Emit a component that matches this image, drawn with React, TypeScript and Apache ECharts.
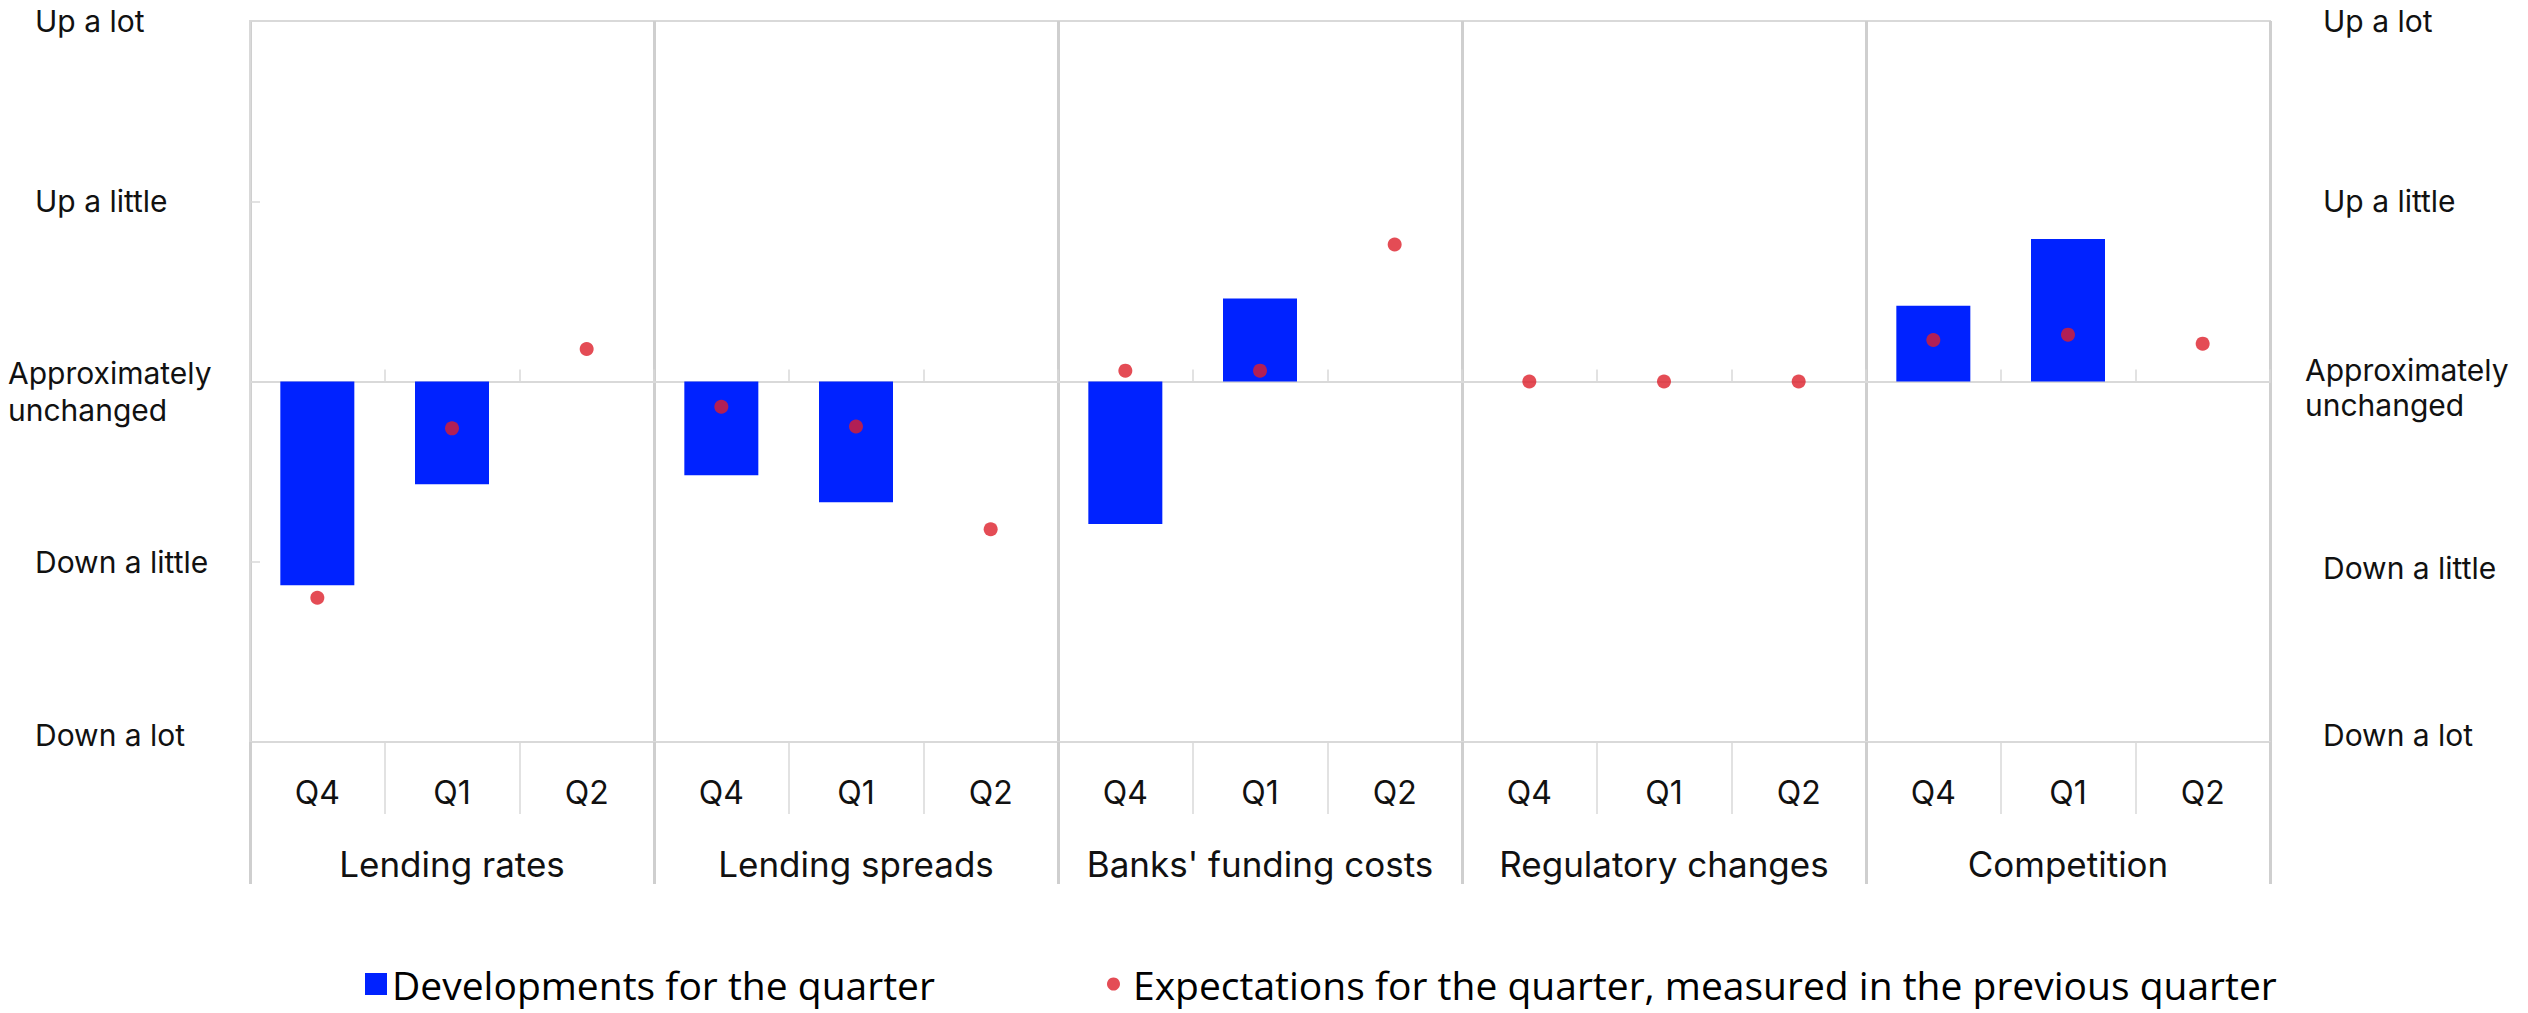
import React, { useEffect, useRef } from 'react';
import * as echarts from 'echarts';

const groups = ['Lending rates', 'Lending spreads', "Banks' funding costs", 'Regulatory changes', 'Competition'];
const quarters = ['Q4', 'Q1', 'Q2'];
const developments: (number | null)[] = [-1.13, -0.57, null, -0.52, -0.67, null, -0.79, 0.46, null, 0, 0, null, 0.42, 0.79, null];
const expectations: number[] = [-1.2, -0.26, 0.18, -0.14, -0.25, -0.82, 0.06, 0.06, 0.76, 0, 0, 0, 0.23, 0.26, 0.21];
const yTickValues = [-2, -1, 0, 1, 2];
const yTickLabels = ['Down a lot', 'Down a little', 'Approximately\nunchanged', 'Up a little', 'Up a lot'];
const seriesNames = ['Developments for the quarter', 'Expectations for the quarter, measured in the previous quarter'];

const FONT = 'Inter';
const LEGEND_FONT = 'Open Sans';
const TEXT = '#111111';
const LIGHT = '#D9D9D9';
const SEP = '#CFCFCF';

export default function App() {
  const ref = useRef<HTMLDivElement>(null);

  useEffect(() => {
    if (!ref.current) return;
    const chart = echarts.init(ref.current, undefined, { renderer: 'svg' });

    const cats = groups.flatMap((g) => quarters.map((q) => g + '|' + q));
    const gridRect = { left: 250, right: 258, top: 21, bottom: 271 };

    const yFormatter = (v: number) => {
      const i = yTickValues.indexOf(v);
      if (i < 0) return '';
      const lab = yTickLabels[i];
      if (lab.indexOf('\n') >= 0) {
        const [a, b] = lab.split('\n');
        return '{a|' + a + '}\n{b|' + b + '}';
      }
      if (v === -2) return '{d|' + lab + '}';
      if (v === -1) return '{m|' + lab + '}';
      return '{p|' + lab + '}';
    };
    const baseText = { fontFamily: FONT, fontSize: 30, color: TEXT };

    const option: any = {
      animation: false,
      backgroundColor: '#ffffff',
      grid: [
        { ...gridRect, show: true, borderColor: LIGHT, borderWidth: 2, backgroundColor: 'transparent' },
        { ...gridRect },
        { ...gridRect },
      ],
      xAxis: [
        {
          gridIndex: 0,
          type: 'category',
          data: cats,
          position: 'bottom',
          axisLine: { show: true, onZero: false, lineStyle: { color: LIGHT, width: 2 } },
          axisTick: { show: true, interval: 0, length: 72, lineStyle: { color: LIGHT, width: 1.5 } },
          axisLabel: {
            interval: 0,
            margin: 34,
            fontFamily: FONT,
            fontSize: 32,
            color: TEXT,
            formatter: (v: string) => v.split('|')[1],
          },
          splitLine: { show: false },
        },
        {
          gridIndex: 1,
          type: 'category',
          data: groups,
          position: 'bottom',
          axisLine: { show: false, onZero: false },
          axisTick: { show: true, interval: 0, length: 142, lineStyle: { color: SEP, width: 3 } },
          axisLabel: { interval: 0, margin: 104, fontFamily: FONT, fontSize: 35, color: TEXT },
          splitLine: { show: true, interval: 0, lineStyle: { color: SEP, width: 3 } },
        },
        {
          gridIndex: 2,
          type: 'category',
          data: cats,
          position: 'bottom',
          axisLine: { show: true, onZero: true, lineStyle: { color: LIGHT, width: 2 } },
          axisTick: { show: true, inside: true, interval: 0, length: 12, lineStyle: { color: LIGHT, width: 1.5 } },
          axisLabel: { show: false },
          splitLine: { show: false },
        },
      ],
      yAxis: [
        {
          gridIndex: 0,
          type: 'value',
          min: -2,
          max: 2,
          interval: 1,
          position: 'left',
          axisLine: { show: true, lineStyle: { color: LIGHT, width: 2 } },
          axisTick: { show: true, inside: true, length: 10, lineStyle: { color: LIGHT, width: 1.5 } },
          splitLine: { show: false },
          axisLabel: {
            align: 'left',
            margin: 242,
            formatter: yFormatter,
            rich: {
              p: { ...baseText, padding: [0, 0, 0, 27] },
              m: { ...baseText, padding: [0, 0, 0, 27] },
              d: { ...baseText, padding: [0, 0, 14, 27] },
              a: { ...baseText, lineHeight: 56 },
              b: { ...baseText, lineHeight: 18 },
            },
          },
        },
        {
          gridIndex: 0,
          type: 'value',
          min: -2,
          max: 2,
          interval: 1,
          position: 'right',
          axisLine: { show: false },
          axisTick: { show: false },
          splitLine: { show: false },
          axisLabel: {
            align: 'left',
            margin: 35,
            formatter: yFormatter,
            rich: {
              p: { ...baseText, padding: [0, 0, 0, 18] },
              m: { ...baseText, padding: [12, 0, 0, 18] },
              d: { ...baseText, padding: [0, 0, 14, 18] },
              a: { ...baseText, lineHeight: 46 },
              b: { ...baseText, lineHeight: 24 },
            },
          },
        },
        { gridIndex: 1, type: 'value', min: -2, max: 2, interval: 1, show: false },
        { gridIndex: 2, type: 'value', min: -2, max: 2, interval: 1, show: false },
      ],
      legend: [
        {
          data: [{ name: seriesNames[0], icon: 'rect' }],
          left: 360,
          top: 958,
          itemWidth: 22,
          itemHeight: 22,
          selectedMode: false,
          textStyle: { fontFamily: LEGEND_FONT, fontSize: 39, lineHeight: 42, color: '#000' },
        },
        {
          data: [{ name: seriesNames[1], icon: 'circle' }],
          left: 1102,
          top: 958,
          itemWidth: 13,
          itemHeight: 13,
          selectedMode: false,
          formatter: '{t|{name}}',
          textStyle: {
            fontFamily: LEGEND_FONT,
            fontSize: 39,
            lineHeight: 42,
            color: '#000',
            rich: { t: { fontFamily: LEGEND_FONT, fontSize: 39, lineHeight: 42, color: '#000', padding: [0, 0, 0, 8] } },
          },
        },
      ],
      series: [
        {
          name: seriesNames[0],
          type: 'bar',
          xAxisIndex: 0,
          yAxisIndex: 0,
          data: developments,
          barWidth: 74,
          itemStyle: { color: '#0022FF' },
          z: 2,
        },
        {
          name: seriesNames[1],
          type: 'scatter',
          xAxisIndex: 0,
          yAxisIndex: 0,
          data: expectations,
          symbolSize: 14,
          itemStyle: { color: '#DD1F2B' },
          z: 3,
        },
      ],
    };

    chart.setOption(option);
    return () => chart.dispose();
  }, []);

  return (
    <div
      ref={ref}
      style={{ position: 'absolute', left: 0, top: 0, width: 2528, height: 1013, background: '#fff' }}
    />
  );
}
